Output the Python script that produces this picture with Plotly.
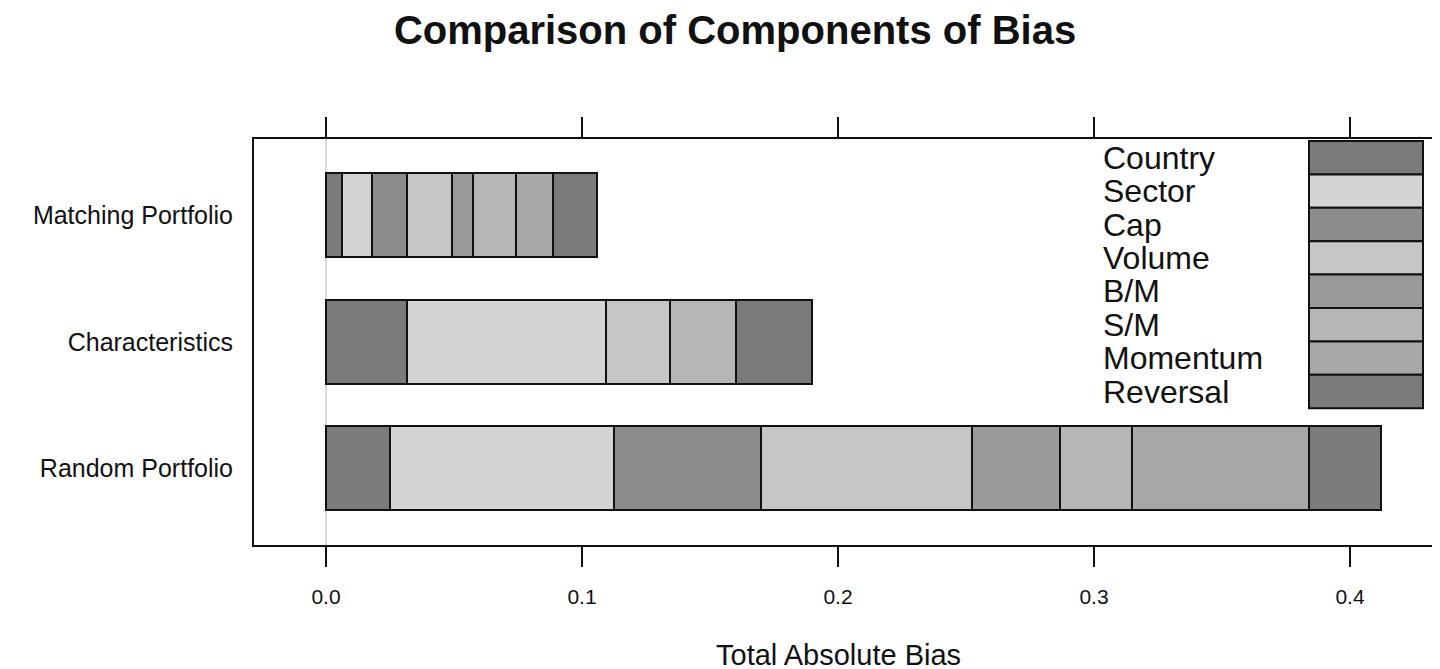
import plotly.graph_objects as go

categories = ["Random Portfolio", "Characteristics", "Matching Portfolio"]
components = ["Country", "Sector", "Cap", "Volume", "B/M", "S/M", "Momentum", "Reversal"]
colors = ["#7b7b7b", "#d4d4d4", "#8c8c8c", "#c6c6c6", "#9a9a9a", "#b6b6b6", "#a8a8a8", "#7b7b7b"]

# values per component, in category order (Random, Characteristics, Matching)
country  = [0.0250, 0.0316, 0.0064]
sector   = [0.0875, 0.0778, 0.0114]
cap      = [0.0574, 0.0000, 0.0137]
volume   = [0.0823, 0.0250, 0.0178]
bm       = [0.0344, 0.0000, 0.0082]
sm       = [0.0284, 0.0258, 0.0167]
momentum = [0.0690, 0.0000, 0.0146]
reversal = [0.0281, 0.0295, 0.0169]
series = [country, sector, cap, volume, bm, sm, momentum, reversal]

x_ticks = [0.0, 0.1, 0.2, 0.3, 0.4]
x_tick_labels = ["0.0", "0.1", "0.2", "0.3", "0.4"]

FONT = "Liberation Sans, Arial, sans-serif"
OFF = 8  # page offset of the figure

fig = go.Figure()
for name, vals, col in zip(components, series, colors):
    fig.add_trace(go.Bar(
        y=categories, x=vals, name=name, orientation="h",
        width=0.663,
        marker=dict(color=col, line=dict(color="#111111", width=2)),
        showlegend=False,
    ))

W, H = 1440, 669
ref_left, ref_top, ref_bottom, ref_right = 254, 139, 545, W + OFF
ml = ref_left - OFF
mt = ref_top - OFF
mb = H - (ref_bottom - OFF)
mr = 0
pw = W - ml - mr
ph = H - mt - mb


def px_x(p):
    return (p - ref_left) / pw


def px_y(p):
    return (ref_bottom - p) / ph


shapes = [
    dict(type="line", xref="x", yref="paper", x0=0, x1=0, y0=0, y1=1,
         line=dict(color="#b5b5b5", width=1), layer="below"),
]
annotations = []

key_left_px, key_right_px = 1309, 1423
key_top_px, row_h_px = 141, 33.4
text_left_px = 1101
for i, (name, col) in enumerate(zip(components, colors)):
    top = key_top_px + i * row_h_px
    bot = top + row_h_px
    shapes.append(dict(
        type="rect", xref="paper", yref="paper",
        x0=px_x(key_left_px), x1=px_x(key_right_px),
        y0=px_y(bot), y1=px_y(top),
        fillcolor=col, line=dict(color="#111111", width=2),
    ))
    annotations.append(dict(
        xref="paper", yref="paper",
        x=px_x(text_left_px), y=px_y((top + bot) / 2),
        xanchor="left", yanchor="middle", showarrow=False,
        text=name, font=dict(family=FONT, size=32, color="#111111"),
    ))

annotations.append(dict(
    xref="paper", yref="paper", x=px_x(838), y=px_y(655),
    xanchor="center", yanchor="middle", showarrow=False,
    text="Total Absolute Bias", font=dict(family=FONT, size=29, color="#111111"),
))

fig.update_layout(
    width=W, height=H,
    margin=dict(l=ml, r=mr, t=mt, b=mb, pad=0),
    barmode="stack",
    plot_bgcolor="white", paper_bgcolor="white",
    title=dict(text="<b>Comparison of Components of Bias</b>",
               x=(735 - OFF) / W, xref="container", xanchor="center",
               y=1 - (30 - OFF) / H, yref="container", yanchor="middle",
               font=dict(family=FONT, size=40, color="#111111")),
    shapes=shapes,
    annotations=annotations,
)

fig.update_xaxes(
    range=[(ref_left - 326) / 2560, (ref_right - 326) / 2560],
    tickvals=x_ticks, ticktext=x_tick_labels,
    ticks="outside", ticklen=20, tickwidth=2, tickcolor="#111111",
    showline=True, linecolor="#111111", linewidth=2, mirror="ticks",
    showgrid=False, zeroline=False,
    ticklabelstandoff=12,
    tickfont=dict(family=FONT, size=21, color="#111111"),
)
fig.update_yaxes(
    range=[-0.604, 2.60],
    ticks="", showline=True, linecolor="#111111", linewidth=2, mirror=False,
    showgrid=False, zeroline=False,
    ticklabelstandoff=14,
    tickfont=dict(family=FONT, size=25, color="#111111"),
)

fig.write_html("out.html")
